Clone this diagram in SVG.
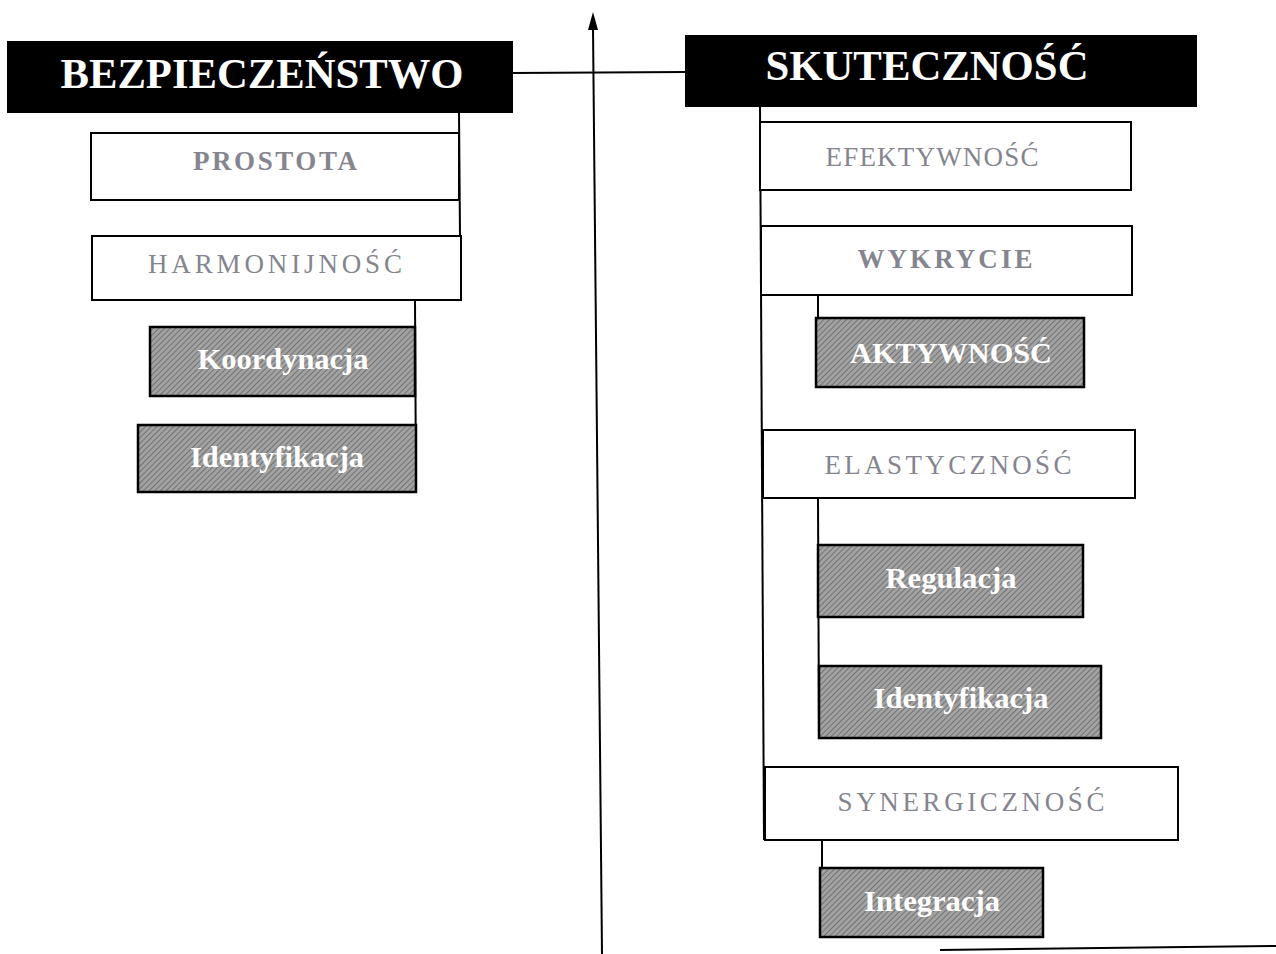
<svg xmlns="http://www.w3.org/2000/svg" width="1276" height="954" viewBox="0 0 1276 954">
<style>
.hdr{fill:#000;stroke:#000;stroke-width:2}
.hdrt{fill:#fff;font-family:"Liberation Serif","Times New Roman",serif;font-weight:bold;font-size:43px;text-anchor:middle}
.lt{fill:#fff;stroke:#000;stroke-width:2}
.ltt{fill:#85858f;font-family:"Liberation Serif","Times New Roman",serif;font-size:27px;text-anchor:middle}
.dk{fill:url(#hatch);stroke:#000;stroke-width:2.5}
.dkt{fill:#fff;font-family:"Liberation Serif","Times New Roman",serif;font-weight:bold;font-size:29px;text-anchor:middle}
.ln{stroke:#000;stroke-width:2;fill:none}
</style>
<defs>
<pattern id="hatch" width="4" height="4" patternUnits="userSpaceOnUse" patternTransform="rotate(45)">
<rect width="4" height="4" fill="#a2a2a2"/>
<line x1="0" y1="0" x2="0" y2="4" stroke="#666" stroke-width="1.6"/>
</pattern>
<marker id="arr" markerWidth="10" markerHeight="18" refX="5" refY="0" orient="auto" markerUnits="userSpaceOnUse" viewBox="0 0 10 18">
<path d="M5,0 L10,18 L0,18 Z" fill="#000"/>
</marker>
</defs>
<g id="connectors">
<line class="ln" x1="602" y1="954" x2="593" y2="28"/>
<path d="M593,12 L598,30 L588,30 Z" fill="#000"/>
<line class="ln" x1="512" y1="73" x2="686" y2="72"/>
<line class="ln" x1="459" y1="112" x2="460" y2="236"/>
<line class="ln" x1="415" y1="300" x2="416" y2="492"/>
<line class="ln" x1="760" y1="106" x2="764" y2="840"/>
<line class="ln" x1="818" y1="295" x2="818" y2="318"/>
<line class="ln" x1="818" y1="498" x2="819" y2="738"/>
<line class="ln" x1="822" y1="840" x2="822" y2="868"/>
<line class="ln" x1="940" y1="950" x2="1276" y2="946"/>
</g>
<g id="bezpieczenstwo">
<rect class="hdr" x="8" y="42" width="504" height="70"/>
<text class="hdrt" x="262" y="88" textLength="403" lengthAdjust="spacingAndGlyphs">BEZPIECZEŃSTWO</text>
</g>
<g id="skutecznosc">
<rect class="hdr" x="686" y="36" width="510" height="70"/>
<text class="hdrt" x="927" y="80" textLength="323" lengthAdjust="spacingAndGlyphs">SKUTECZNOŚĆ</text>
</g>
<g id="prostota">
<rect class="lt" x="91" y="133" width="368" height="67"/>
<text class="ltt" x="275" y="170" textLength="164" lengthAdjust="spacing" font-weight="bold">PROSTOTA</text>
</g>
<g id="harmonijnosc">
<rect class="lt" x="92" y="236" width="369" height="64"/>
<text class="ltt" x="275" y="273" textLength="254" lengthAdjust="spacing">HARMONIJNOŚĆ</text>
</g>
<g id="koordynacja">
<rect class="dk" x="150" y="327" width="265" height="69"/>
<text class="dkt" x="283" y="369" textLength="171" lengthAdjust="spacingAndGlyphs">Koordynacja</text>
</g>
<g id="identyfikacja-l">
<rect class="dk" x="138" y="425" width="278" height="67"/>
<text class="dkt" x="277" y="467" textLength="174" lengthAdjust="spacingAndGlyphs">Identyfikacja</text>
</g>
<g id="efektywnosc">
<rect class="lt" x="760" y="122" width="371" height="68"/>
<text class="ltt" x="932" y="166" textLength="213" lengthAdjust="spacing">EFEKTYWNOŚĆ</text>
</g>
<g id="wykrycie">
<rect class="lt" x="761" y="226" width="371" height="69"/>
<text class="ltt" x="945" y="268" textLength="175" lengthAdjust="spacing" font-weight="bold">WYKRYCIE</text>
</g>
<g id="aktywnosc">
<rect class="dk" x="816" y="318" width="268" height="69"/>
<text class="dkt" x="951" y="363" textLength="202" lengthAdjust="spacingAndGlyphs">AKTYWNOŚĆ</text>
</g>
<g id="elastycznosc">
<rect class="lt" x="763" y="430" width="372" height="68"/>
<text class="ltt" x="948" y="474" textLength="247" lengthAdjust="spacing">ELASTYCZNOŚĆ</text>
</g>
<g id="regulacja">
<rect class="dk" x="818" y="545" width="265" height="72"/>
<text class="dkt" x="951" y="588" textLength="131" lengthAdjust="spacingAndGlyphs">Regulacja</text>
</g>
<g id="identyfikacja-r">
<rect class="dk" x="819" y="666" width="282" height="72"/>
<text class="dkt" x="961" y="708" textLength="175" lengthAdjust="spacingAndGlyphs">Identyfikacja</text>
</g>
<g id="synergicznosc">
<rect class="lt" x="765" y="767" width="413" height="73"/>
<text class="ltt" x="971" y="811" textLength="267" lengthAdjust="spacing">SYNERGICZNOŚĆ</text>
</g>
<g id="integracja">
<rect class="dk" x="820" y="868" width="223" height="69"/>
<text class="dkt" x="932" y="911" textLength="136" lengthAdjust="spacingAndGlyphs">Integracja</text>
</g>
</svg>
